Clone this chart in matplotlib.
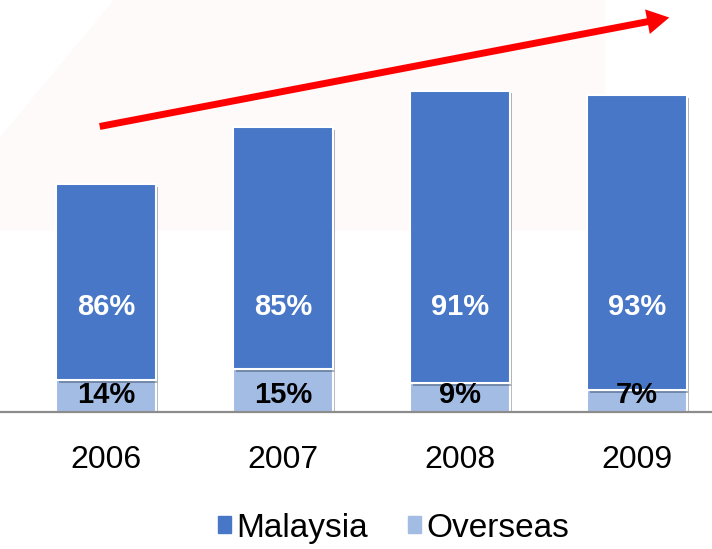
import matplotlib.pyplot as plt
import matplotlib.patheffects as pe
from matplotlib.patches import Polygon, FancyArrowPatch, Patch

plt.rcParams['font.family'] = ['Liberation Sans', 'DejaVu Sans']

# data: total revenue index (2006 = 100) and share by region
years = ['2006', '2007', '2008', '2009']
totals = [100, 125, 141, 139]
malaysia_pct = [86, 85, 91, 93]
overseas_pct = [14, 15, 9, 7]

dark_blue = '#4777C6'
light_blue = '#A3BCE4'

overseas = [t * p / 100 for t, p in zip(totals, overseas_pct)]
malaysia = [t - o for t, o in zip(totals, overseas)]

fig = plt.figure(figsize=(7.12, 5.49), dpi=100)

# faint pink background shape
bg = Polygon([(0, 0.58), (0, 0.75), (0.16, 1.0), (0.85, 1.0), (0.85, 0.58)],
             closed=True, transform=fig.transFigure, facecolor='#FEFAFA',
             edgecolor='none', zorder=-1)
fig.add_artist(bg)

ax = fig.add_axes([0, (549 - 412) / 549, 1, 412 / 549])
ax.set_facecolor('none')

x = range(len(years))
shadow = [pe.SimplePatchShadow(offset=(2, -2), alpha=0.35), pe.Normal()]
b1 = ax.bar(x, overseas, width=0.56, color=light_blue, edgecolor='white',
            linewidth=1.5, label='Overseas')
b2 = ax.bar(x, malaysia, width=0.56, bottom=overseas, color=dark_blue,
            edgecolor='white', linewidth=1.5, label='Malaysia')
for r in list(b1) + list(b2):
    r.set_path_effects(shadow)

for i in x:
    ax.text(i, 46, f'{malaysia_pct[i]}%', ha='center', va='center',
            color='white', fontsize=21, fontweight='bold')
    ax.text(i, 7.5, f'{overseas_pct[i]}%', ha='center', va='center',
            color='black', fontsize=21, fontweight='bold')

ax.set_xlim(-0.599, 3.424)
ax.set_ylim(0, 180.7)
ax.set_xticks(list(x))
ax.set_xticklabels(years, fontsize=23)
ax.tick_params(axis='x', length=0, pad=24)
ax.set_yticks([])
for s in ['top', 'left', 'right']:
    ax.spines[s].set_visible(False)
ax.spines['bottom'].set_color('#8C8C8C')
ax.spines['bottom'].set_linewidth(1.6)

# growth arrow
arrow = FancyArrowPatch((97 / 712, 1 - 127 / 549), (672 / 712, 1 - 17 / 549),
                        transform=fig.transFigure,
                        arrowstyle='simple,tail_width=0.5,head_width=1.8,head_length=1.6',
                        mutation_scale=10, color='#FF0000', lw=0, zorder=5)
fig.add_artist(arrow)

handles = [Patch(color=dark_blue), Patch(color=light_blue)]
fig.legend(handles, ['Malaysia', 'Overseas'], loc='center',
           bbox_to_anchor=(0.553, 0.038), ncol=2, frameon=False, fontsize=24,
           handlelength=0.4, handleheight=0.4, handletextpad=0.15,
           columnspacing=1.2)

fig.savefig('out.png', dpi=100)
